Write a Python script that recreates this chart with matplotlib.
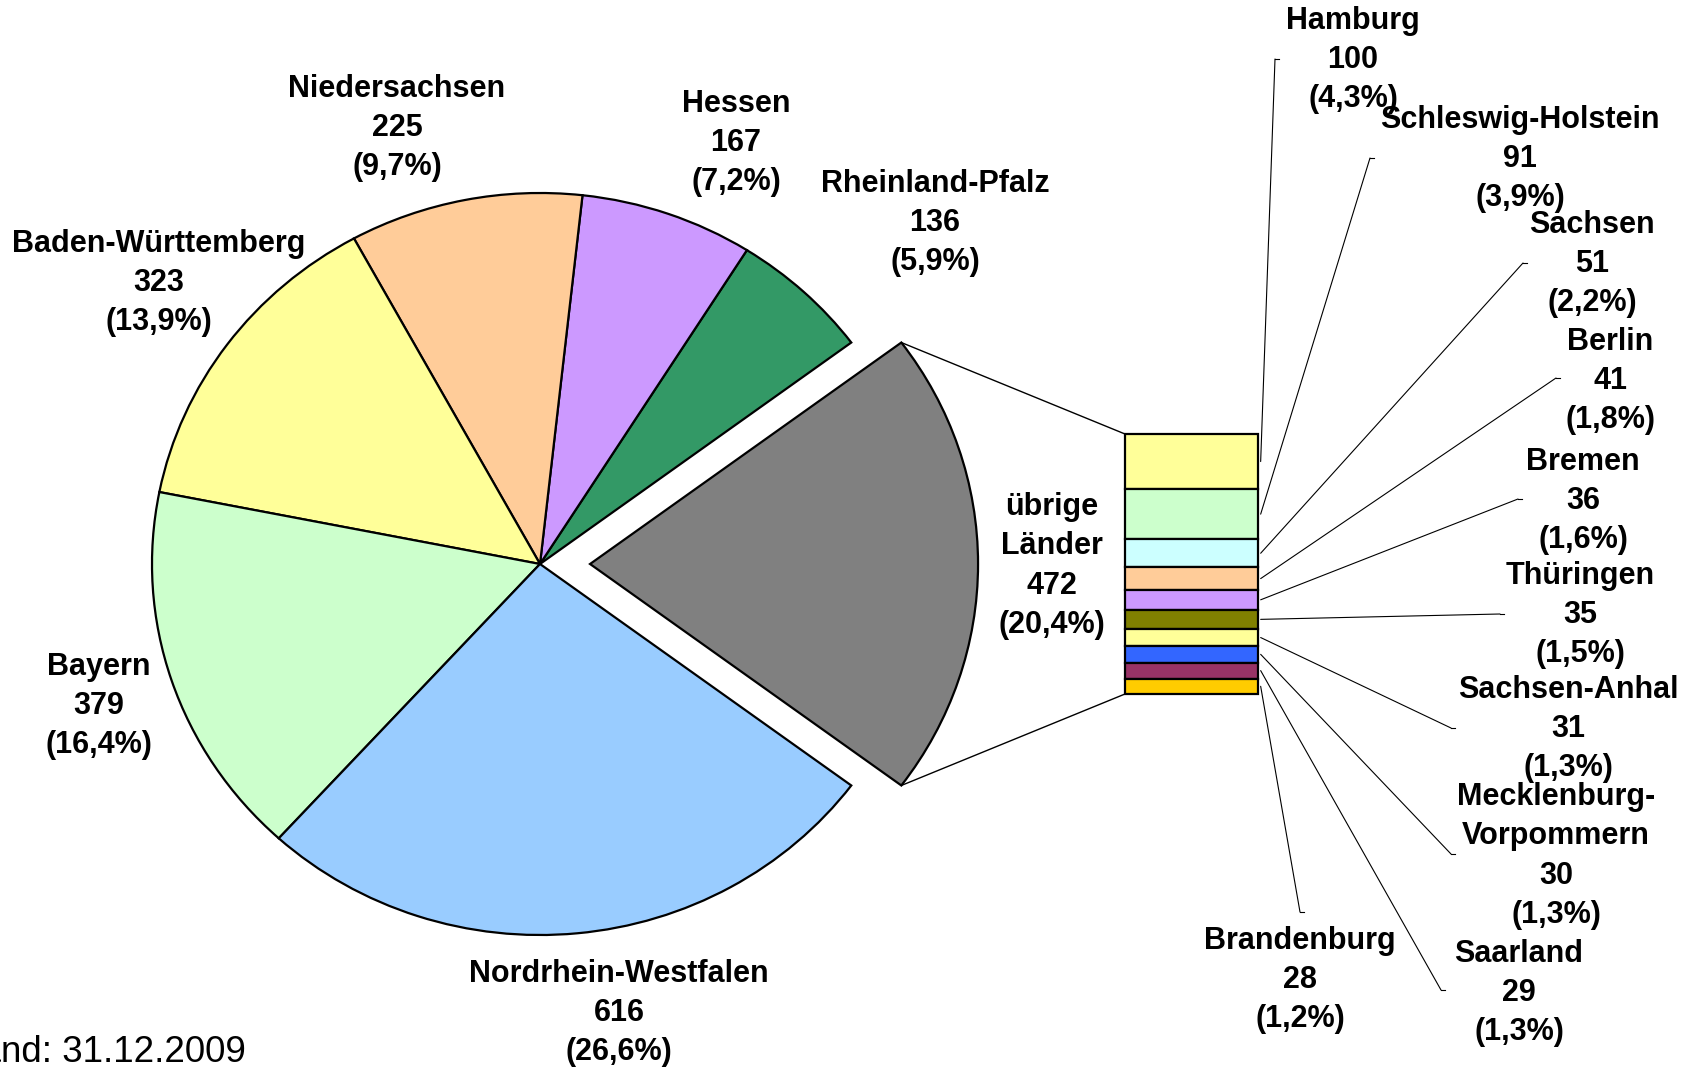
import numpy as np
import matplotlib
matplotlib.use("Agg")
import matplotlib.pyplot as plt
from matplotlib.patches import ConnectionPatch

plt.rcParams['font.family'] = ['Liberation Sans', 'DejaVu Sans']

# Länder in the pie (clockwise from the bottom)
states = ['Nordrhein-Westfalen', 'Bayern', 'Baden-Württemberg',
          'Niedersachsen', 'Hessen', 'Rheinland-Pfalz']
values = [616, 379, 323, 225, 167, 136]
pie_colors = ['#99CCFF', '#CCFFCC', '#FFFF99', '#FFCC99', '#CC99FF', '#339966']

other_name = 'übrige\nLänder'
other_color = '#808080'

# übrige Länder, top to bottom in the bar
other_states = ['Hamburg', 'Schleswig-Holstein', 'Sachsen', 'Berlin', 'Bremen',
                'Thüringen', 'Sachsen-Anhal', 'Mecklenburg-\nVorpommern',
                'Saarland', 'Brandenburg']
other_values = [100, 91, 51, 41, 36, 35, 31, 30, 29, 28]
bar_colors = ['#FFFF99', '#CCFFCC', '#CCFFFF', '#FFCC99', '#CC99FF',
              '#808000', '#FFFF99', '#3366FF', '#993366', '#FFCC00']

footnote = 'Stand: 31.12.2009'

W, H = 1694, 1070

# label layout (pixels from top-left)
pie_label_xy = [(619, 1013), (99, 706), (159, 283), (397, 128), (736, 143), (935, 223)]
other_label_xy = (1052, 566)
bar_label_xy = [(1353, 60), (1520, 159), (1592, 264), (1610, 381), (1583, 501),
                (1580, 615), (1568, 729), (1556, 856), (1519, 993), (1300, 980)]
leader_end = [(1275, 59), (1370, 158), (1523, 263), (1556, 378), (1518, 499),
              (1500, 614), (1451, 728), (1451, 854), (1441, 990), (1300, 912)]


def fig_xy(x, y):
    return x / W, 1 - y / H


def fmt(v, total):
    return f"{v}\n({v / total * 100:.1f}%)".replace('.', ',')


other_total = sum(other_values)
total = sum(values) + other_total

fig = plt.figure(figsize=(W / 100, H / 100), dpi=100)

# pie axes: slightly flattened like the original
ax_pie = fig.add_axes([152 / W, (H - 564 - 371) / H, 776 / W, 742 / H])
pie_vals = [other_total] + values[::-1]
pie_cols = [other_color] + pie_colors[::-1]
explode = [0.129] + [0] * len(values)
start = -other_total / total * 180
wedges, _ = ax_pie.pie(pie_vals, colors=pie_cols, explode=explode,
                       startangle=start, counterclock=True,
                       wedgeprops=dict(edgecolor='black', linewidth=1.6))
for w in wedges:
    w.set_clip_on(False)
ax_pie.set_aspect('auto')
ax_pie.set_xlim(-1, 1)
ax_pie.set_ylim(-1, 1)
ax_pie.axis('off')

# bar for the small Länder
ax_bar = fig.add_axes([1125 / W, (H - 694) / H, 133 / W, 260 / H])
bottoms = np.concatenate([[0], np.cumsum(other_values)[:-1]])
ax_bar.bar(0, other_values, bottom=bottoms, width=1, color=bar_colors,
           edgecolor='black', linewidth=1.6, clip_on=False)
ax_bar.set_xlim(-0.5, 0.5)
ax_bar.set_ylim(other_total, 0)
ax_bar.axis('off')

# connectors from the exploded wedge to the bar
gw = wedges[0]
cx, cy = gw.center
for ang, yb in [(gw.theta2, 0), (gw.theta1, other_total)]:
    p = (cx + gw.r * np.cos(np.radians(ang)), cy + gw.r * np.sin(np.radians(ang)))
    con = ConnectionPatch(xyA=p, coordsA=ax_pie.transData, xyB=(-0.5, yb),
                          coordsB=ax_bar.transData, color='black', linewidth=1.0)
    fig.add_artist(con)

# leader lines for the bar labels
mids = bottoms + np.array(other_values) / 2
for m, (ex, ey) in zip(mids, leader_end):
    con = ConnectionPatch(xyA=(0.52, m), coordsA=ax_bar.transData,
                          xyB=(ex, H - ey), coordsB='figure pixels',
                          color='black', linewidth=0.8)
    fig.add_artist(con)
    fig.add_artist(plt.Line2D([ex / W, (ex + 4) / W], [1 - ey / H, 1 - ey / H],
                              color='black', linewidth=0.8))

lab_kw = dict(ha='center', va='center', fontsize=22, fontweight='bold', linespacing=1.4)
for name, v, (x, y) in zip(states, values, pie_label_xy):
    fig.text(*fig_xy(x, y), name + '\n' + fmt(v, total), **lab_kw)
fig.text(*fig_xy(*other_label_xy), other_name + '\n' + fmt(other_total, total), **lab_kw)
for name, v, (x, y) in zip(other_states, other_values, bar_label_xy):
    fig.text(*fig_xy(x, y), name + '\n' + fmt(v, total), **lab_kw)

# the source note is cut at the left edge in the original
fig.text(*fig_xy(246, 1053), footnote, ha='right', va='center', fontsize=26.5)

fig.savefig('out.png', dpi=100)
